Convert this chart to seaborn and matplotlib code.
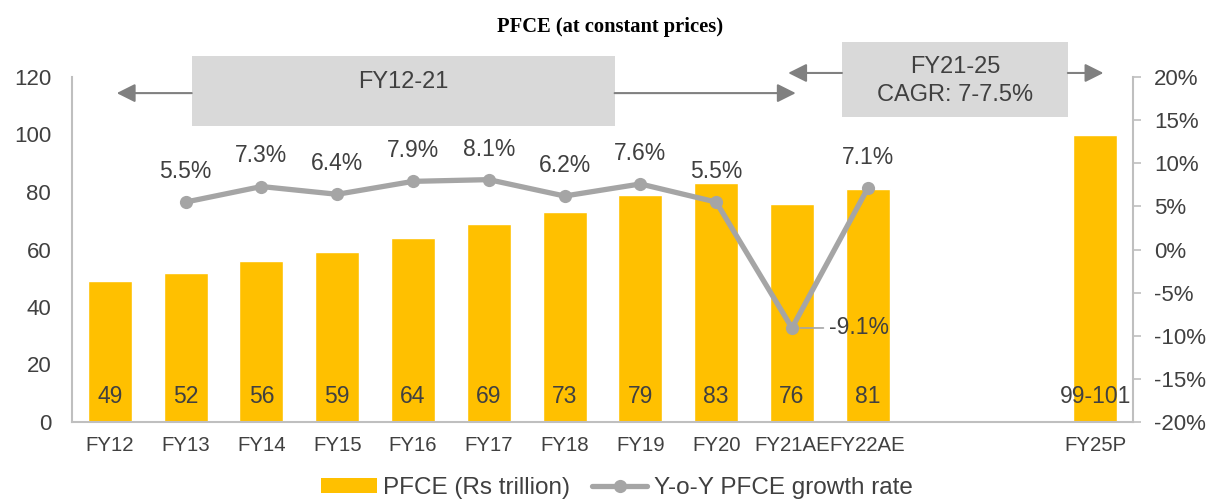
import numpy as np
import pandas as pd
import seaborn as sns
import matplotlib.pyplot as plt
from matplotlib.patches import Rectangle, Patch
from matplotlib.lines import Line2D
from matplotlib.ticker import FuncFormatter

# data
years = ['FY12', 'FY13', 'FY14', 'FY15', 'FY16', 'FY17', 'FY18', 'FY19', 'FY20',
         'FY21AE', 'FY22AE', 'FY23', 'FY24', 'FY25P']
tick_labels = ['FY12', 'FY13', 'FY14', 'FY15', 'FY16', 'FY17', 'FY18', 'FY19', 'FY20',
               'FY21AE', 'FY22AE', '', '', 'FY25P']
pfce = [49, 52, 56, 59, 64, 69, 73, 79, 83, 76, 81, np.nan, np.nan, 100]
pfce_labels = ['49', '52', '56', '59', '64', '69', '73', '79', '83', '76', '81', '', '', '99-101']
growth_years = ['FY13', 'FY14', 'FY15', 'FY16', 'FY17', 'FY18', 'FY19', 'FY20', 'FY21AE', 'FY22AE']
growth = [5.5, 7.3, 6.4, 7.9, 8.1, 6.2, 7.6, 5.5, -9.1, 7.1]

BAR = '#FFC000'
LINE = '#A5A5A5'
TXT = '#404040'
AXC = '#BFBFBF'

sns.set_theme(style='white')
plt.rcParams['font.family'] = ['Liberation Sans', 'DejaVu Sans']

df = pd.DataFrame({'year': years, 'pfce': pfce})
df_g = pd.DataFrame({'pos': [years.index(y) for y in growth_years], 'growth': growth})

fig = plt.figure(figsize=(12.09, 5.01), dpi=100)
ax = fig.add_axes([72 / 1209, 1 - 422 / 501, (1133 - 72) / 1209, (422 - 77) / 501])

sns.barplot(data=df, x='year', y='pfce', order=years, color=BAR, saturation=1,
            width=0.58, ax=ax)
ax.set_xlim(-0.5, len(years) - 0.5)
ax.set_ylim(0, 120)
ax.set_yticks(range(0, 121, 20))
ax.set_xticks(range(len(years)))
ax.set_xticklabels(tick_labels, fontsize=14.7, color=TXT)
ax.set_xlabel('')
ax.set_ylabel('')
ax.tick_params(axis='y', length=0, pad=15, labelsize=16, labelcolor=TXT)
ax.tick_params(axis='x', length=0, pad=10)
for s in ['top', 'right']:
    ax.spines[s].set_visible(False)
for s in ['left', 'bottom']:
    ax.spines[s].set_color(AXC)
    ax.spines[s].set_linewidth(1.5)

for i, lab in enumerate(pfce_labels):
    if lab:
        ax.text(i, 8.7, lab, ha='center', va='center', fontsize=16.5, color=TXT)

ax2 = ax.twinx()
sns.lineplot(data=df_g, x='pos', y='growth', color=LINE, lw=3.8, marker='o',
             markersize=9.5, markeredgewidth=0, ax=ax2)
ax2.set_ylim(-20, 20)
ax2.set_yticks(range(-20, 21, 5))
ax2.yaxis.set_major_formatter(FuncFormatter(lambda v, p: f'{v:.0f}%'))
ax2.set_xlabel('')
ax2.set_ylabel('')
ax2.tick_params(axis='y', length=6, width=1.2, color=AXC, pad=9, labelsize=16,
                labelcolor=TXT, direction='out')
for s in ['top', 'left', 'bottom']:
    ax2.spines[s].set_visible(False)
ax2.spines['right'].set_color(AXC)
ax2.spines['right'].set_linewidth(1.5)

for x, g in zip(df_g['pos'], df_g['growth']):
    if g < 0:
        ax2.annotate(f'{g:.1f}%', xy=(x, g), xytext=(27, 0), textcoords='offset points',
                     ha='left', va='center', fontsize=16.5, color=TXT,
                     arrowprops=dict(arrowstyle='-', color=LINE, lw=1.2,
                                     shrinkA=2, shrinkB=6))
    else:
        ax2.annotate(f'{g:.1f}%', xy=(x, g), xytext=(0, 22), textcoords='offset points',
                     ha='center', va='center', fontsize=16.5, color=TXT)

# period boxes and arrows
arrow_kw = dict(arrowstyle='-|>,head_length=0.4,head_width=0.2', color='#808080',
                lw=1.5, mutation_scale=28, shrinkA=0, shrinkB=0)
ax.add_patch(Rectangle((1.08, 103), 6.66 - 1.08, 127.3 - 103, facecolor='#D9D9D9',
                       edgecolor='none', clip_on=False, zorder=3))
ax.text(3.87, 118.3, 'FY12-21', ha='center', va='center', fontsize=17, color=TXT,
        zorder=4)
ax.annotate('', xy=(0.09, 114.4), xytext=(1.08, 114.4), arrowprops=arrow_kw,
            annotation_clip=False)
ax.annotate('', xy=(9.05, 114.4), xytext=(6.66, 114.4), arrowprops=arrow_kw,
            annotation_clip=False)

ax.add_patch(Rectangle((9.66, 106.1), 12.64 - 9.66, 132.2 - 106.1, facecolor='#D9D9D9',
                       edgecolor='none', clip_on=False, zorder=3))
ax.text(11.15, 118.6, 'FY21-25\nCAGR: 7-7.5%', ha='center', va='center', fontsize=17,
        color=TXT, linespacing=1.3, zorder=4)
ax.annotate('', xy=(8.95, 121.4), xytext=(9.66, 121.4), arrowprops=arrow_kw,
            annotation_clip=False)
ax.annotate('', xy=(13.11, 121.4), xytext=(12.64, 121.4), arrowprops=arrow_kw,
            annotation_clip=False)

fig.text(0.505, 1 - 27 / 501, 'PFCE (at constant prices)', ha='center', va='center',
         fontsize=14.8, fontweight='bold', family='Liberation Serif', color='black')

handles = [Patch(facecolor=BAR, edgecolor='none'),
           Line2D([], [], color=LINE, lw=3.8, marker='o', markersize=9.5, markeredgewidth=0)]
fig.legend(handles, ['PFCE (Rs trillion)', 'Y-o-Y PFCE growth rate'],
           loc='center', bbox_to_anchor=(0.51, 1 - 488 / 501), ncol=2, frameon=False,
           fontsize=17.5, labelcolor=TXT, handlelength=2.3, handleheight=0.6,
           columnspacing=0.9, handletextpad=0.25)

fig.savefig('out.png', dpi=100)
